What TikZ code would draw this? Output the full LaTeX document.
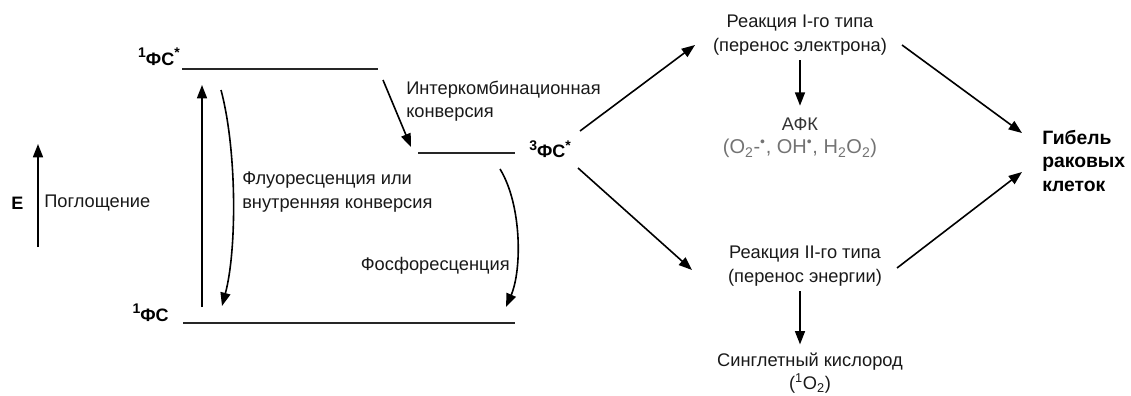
\documentclass[tikz,border=0pt]{standalone}
\usepackage{fontspec}
\setmainfont{Liberation Sans}
\usetikzlibrary{arrows.meta}

\newcommand{\livsup}[1]{\raisebox{0.42em}{\fontsize{10.5}{11}\selectfont #1}}

\tikzset{
  freccia/.style={-{Triangle[length=10pt,width=7.5pt]}, line width=1.2pt},
  livello/.style={line width=1.5pt, draw=black!85},
  testo/.style={font=\fontsize{13.7}{17.5}\selectfont, inner sep=0pt, align=center, text=black!90},
  stato/.style={font=\bfseries\fontsize{13.5}{15}\selectfont, inner sep=0pt},
}

\begin{document}
\begin{tikzpicture}[x=0.75pt, y=-0.75pt]
	\useasboundingbox (0,0) rectangle (1131,396);
				\begin{scope}
					% livelli energetici
					\coordinate (s1a) at (182,69);
					\coordinate (s1b) at (378,69);
					\coordinate (t1a) at (418,153);
					\coordinate (t1b) at (515,153);
					\coordinate (s0a) at (183,323);
					\coordinate (s0b) at (515,323);
					\draw[livello] (s1a) -- (s1b);
					\draw[livello] (t1a) -- (t1b);
					\draw[livello] (s0a) -- (s0b);

					\node[stato, anchor=east] (fsecc) at (180,57) {\livsup{1}ФС\livsup{*}};
					\node[stato, anchor=east] (fsfond) at (169,313) {\livsup{1}ФС};
					\node[stato, anchor=west] (fstrip) at (529,149) {\livsup{3}ФС\livsup{*}};

					% asse energia
					\coordinate (e0) at (38,247);
					\coordinate (e1) at (38,144);
					\draw[freccia] (e0) -- (e1);
					\node[stato, anchor=west] (en) at (11,203) {E};
					\node[testo, anchor=west] (assorb) at (44,203) {Поглощение};

					% transizioni
					\coordinate (ab0) at (202,307);
					\coordinate (ab1) at (202,85);
					\draw[freccia] (ab0) -- (ab1); % assorbimento
					\coordinate (fl0) at (221,90);
					\coordinate (fl1) at (222,306);
					\draw[freccia] (fl0) .. controls (237,150) and (237,250) .. (fl1); % fluorescenza
					\node[testo, anchor=west, align=left] (fluor) at (242,192) {Флуоресценция или\\внутренняя конверсия};

					\coordinate (isc0) at (383,80);
					\coordinate (isc1) at (411,147);
					\draw[freccia] (isc0) -- (isc1); % da S1 a T1
					\node[testo, anchor=west, align=left] (isc) at (406,101) {Интеркомбинационная\\конверсия};

					\coordinate (ph0) at (500,169);
					\coordinate (ph1) at (506,307);
					\draw[freccia] (ph0) .. controls (522,205) and (522,270) .. (ph1); % fosforescenza
					\node[testo, anchor=east] (phos) at (510,266) {Фосфоресценция};

					% reazioni
					\node[testo] (reaz1) at (800,35) {Реакция I-го типа\\(перенос электрона)};
					\node[testo, text=black!80] (afk) at (800,138) {АФК\\\textcolor{black!55}{\fontsize{15}{17}\selectfont(O\textsubscript{2}-\textsuperscript{•}, OH\textsuperscript{•}, H\textsubscript{2}O\textsubscript{2})}};
					\node[testo] (reaz2) at (805,266) {Реакция II-го типа\\(перенос энергии)};
					\node[testo] (singl) at (810,373) {Синглетный кислород\\(\textsuperscript{1}O\textsubscript{2})};
					\node[stato, anchor=west, align=left, font=\bfseries\fontsize{14.5}{17.5}\selectfont] (morte) at (1042,161) {Гибель\\раковых\\клеток};

					\coordinate (r1a) at (580,131);
					\coordinate (r1b) at (695,45);
					\coordinate (r2a) at (578,168);
					\coordinate (r2b) at (692,270);
					\draw[freccia] (r1a) -- (r1b); % da T1 a tipo I
					\draw[freccia] (r2a) -- (r2b); % da T1 a tipo II
					\draw[freccia, shorten <=4pt, shorten >=9pt] (reaz1.south -| afk) -- (afk.north);
					\draw[freccia, shorten <=4pt, shorten >=6pt] (reaz2.south -| afk) -- (singl.north -| afk);

					\coordinate (m1a) at (902,45);
					\coordinate (m1b) at (1022,133);
					\coordinate (m2a) at (897,268);
					\coordinate (m2b) at (1022,172);
					\draw[freccia] (m1a) -- (m1b); % tipo I verso morte
					\draw[freccia] (m2a) -- (m2b); % tipo II verso morte
				\end{scope}
\end{tikzpicture}
\end{document}
